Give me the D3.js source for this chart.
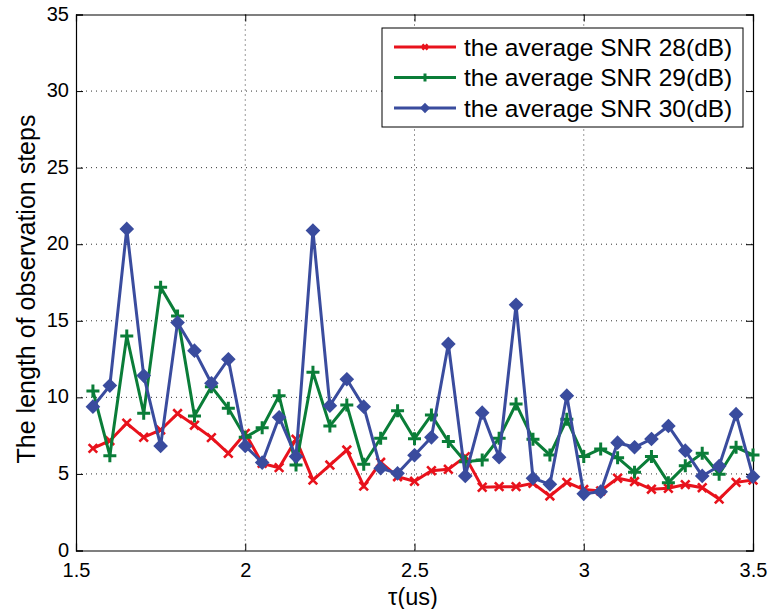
<!DOCTYPE html>
<html>
<head>
<meta charset="utf-8">
<script src="https://cdn.jsdelivr.net/npm/d3@7"></script>
<style>
  html, body { margin: 0; padding: 0; background: #fff; }
  svg { display: block; font-family: "Liberation Sans", Arial, sans-serif; }
</style>
</head>
<body>
<svg id="chart" width="770" height="609"></svg>
<script>
// tau values (us)
const tau = [1.55, 1.60, 1.65, 1.70, 1.75, 1.80, 1.85, 1.90, 1.95, 2.00,
             2.05, 2.10, 2.15, 2.20, 2.25, 2.30, 2.35, 2.40, 2.45, 2.50,
             2.55, 2.60, 2.65, 2.70, 2.75, 2.80, 2.85, 2.90, 2.95, 3.00,
             3.05, 3.10, 3.15, 3.20, 3.25, 3.30, 3.35, 3.40, 3.45, 3.50];

// observation steps for each average SNR
const snr28 = [6.67, 7.17, 8.31, 7.39, 7.87, 8.94, 8.18, 7.37, 6.35, 7.65,
               5.69, 5.41, 7.26, 4.60, 5.58, 6.56, 4.21, 5.76, 4.82, 4.52,
               5.21, 5.30, 6.13, 4.13, 4.17, 4.17, 4.39, 3.56, 4.45, 3.98,
               3.89, 4.72, 4.50, 4.00, 4.06, 4.30, 4.10, 3.36, 4.45, 4.60];
const snr29 = [10.42, 6.19, 14.01, 8.96, 17.19, 15.32, 8.79, 10.70, 9.29, 7.39,
               8.02, 10.11, 5.58, 11.64, 8.13, 9.50, 5.63, 7.33, 9.13, 7.30,
               8.85, 7.11, 5.80, 5.91, 7.33, 9.57, 7.26, 6.24, 8.57, 6.13,
               6.63, 6.06, 5.11, 6.13, 4.43, 5.54, 6.35, 4.98, 6.74, 6.24];
const snr30 = [9.39, 10.77, 21.00, 11.42, 6.83, 14.88, 13.05, 10.92, 12.49, 6.83,
               5.74, 8.70, 6.13, 20.89, 9.46, 11.18, 9.39, 5.37, 5.04, 6.22,
               7.39, 13.49, 4.87, 9.00, 6.09, 16.04, 4.72, 4.32, 10.11, 3.70,
               3.84, 7.04, 6.74, 7.28, 8.13, 6.52, 4.87, 5.52, 8.90, 4.82];

const xTicks = [1.5, 2, 2.5, 3, 3.5];
const yTicks = [0, 5, 10, 15, 20, 25, 30, 35];

const series = [
  { name: "the average SNR 28(dB)", values: snr28, color: "#e8121c", marker: "x" },
  { name: "the average SNR 29(dB)", values: snr29, color: "#0a7d38", marker: "plus" },
  { name: "the average SNR 30(dB)", values: snr30, color: "#3a4c9e", marker: "diamond" }
];

(function draw() {
  const svg = d3.select("#chart");
  const pLeft = 76, pRight = 753, pTop = 14.5, pBottom = 550.5;

  const x = d3.scaleLinear().domain([1.5, 3.5]).range([pLeft, pRight]);
  const y = d3.scaleLinear().domain([0, 35]).range([pBottom, pTop]);

  // dotted grid
  const grid = svg.append("g");
  grid.selectAll("line.gx").data(xTicks.slice(1, -1)).join("line")
    .attr("x1", d => x(d)).attr("x2", d => x(d))
    .attr("y1", pTop).attr("y2", pBottom)
    .attr("stroke", "#333").attr("stroke-width", 1).attr("stroke-dasharray", "1,4");
  grid.selectAll("line.gy").data(yTicks.slice(1, -1)).join("line")
    .attr("x1", pLeft).attr("x2", pRight)
    .attr("y1", d => y(d)).attr("y2", d => y(d))
    .attr("stroke", "#333").attr("stroke-width", 1).attr("stroke-dasharray", "1,4");

  // axes with inward ticks on all four sides
  const tickLen = 7;
  const xAxisB = d3.axisBottom(x).tickValues(xTicks).tickSize(-tickLen).tickPadding(12.5)
    .tickFormat(d3.format(""));
  const xAxisT = d3.axisTop(x).tickValues(xTicks).tickSize(-tickLen).tickFormat("");
  const yAxisL = d3.axisLeft(y).tickValues(yTicks).tickSize(-tickLen).tickPadding(7);
  const yAxisR = d3.axisRight(y).tickValues(yTicks).tickSize(-tickLen).tickFormat("");

  function styleAxis(g) {
    g.select(".domain").attr("stroke", "#000").attr("stroke-width", 1.2);
    g.selectAll(".tick line").attr("stroke", "#000").attr("stroke-width", 1);
    g.selectAll(".tick text").attr("fill", "#000").style("font-size", "20px")
      .style("font-family", "'Liberation Sans', Arial, sans-serif");
  }
  svg.append("g").attr("transform", `translate(0,${pBottom})`).call(xAxisB).call(styleAxis);
  svg.append("g").attr("transform", `translate(0,${pTop})`).call(xAxisT).call(styleAxis);
  svg.append("g").attr("transform", `translate(${pLeft},0)`).call(yAxisL).call(styleAxis)
    .selectAll(".tick text").attr("dy", "0.28em");
  svg.append("g").attr("transform", `translate(${pRight},0)`).call(yAxisR).call(styleAxis);

  // axis titles
  svg.append("text").attr("x", 413).attr("y", 605)
    .attr("text-anchor", "middle").style("font-size", "23.5px").text("τ(us)");
  svg.append("text").attr("transform", "translate(35,289) rotate(-90)")
    .attr("text-anchor", "middle").style("font-size", "25px")
    .text("The length of observation steps");

  // marker drawing
  function drawMarker(g, type, color, cx, cy, s) {
    if (type === "x") {
      const r = 4.3 * s;
      g.append("path").attr("d", `M${cx - r},${cy - r}L${cx + r},${cy + r}M${cx - r},${cy + r}L${cx + r},${cy - r}`)
        .attr("stroke", color).attr("stroke-width", 2.6).attr("fill", "none");
    } else if (type === "plus") {
      const r = 6.5 * s;
      g.append("path").attr("d", `M${cx - r},${cy}L${cx + r},${cy}M${cx},${cy - r}L${cx},${cy + r}`)
        .attr("stroke", color).attr("stroke-width", 3).attr("fill", "none");
    } else {
      const r = 5.5 * s;
      g.append("path").attr("d", `M${cx},${cy - r}L${cx + r},${cy}L${cx},${cy + r}L${cx - r},${cy}Z`)
        .attr("stroke", color).attr("stroke-width", 2.6).attr("fill", color).attr("stroke-linejoin", "miter");
    }
  }

  const plot = svg.append("g");
  const line = d3.line().x((d, i) => x(tau[i])).y(d => y(d));
  series.forEach(s => {
    const g = plot.append("g");
    g.append("path").datum(s.values).attr("d", line)
      .attr("fill", "none").attr("stroke", s.color).attr("stroke-width", 3)
      .attr("stroke-linejoin", "miter");
    s.values.forEach((v, i) => drawMarker(g, s.marker, s.color, x(tau[i]), y(v), 1));
  });

  // legend
  const leg = svg.append("g");
  leg.append("rect").attr("x", 382).attr("y", 28).attr("width", 361).attr("height", 99)
    .attr("fill", "#fff").attr("stroke", "#000").attr("stroke-width", 1);
  series.forEach((s, i) => {
    const ly = 47 + i * 30.5;
    leg.append("line").attr("x1", 394).attr("x2", 456).attr("y1", ly).attr("y2", ly)
      .attr("stroke", s.color).attr("stroke-width", 3);
    drawMarker(leg, s.marker, s.color, 425, ly, 0.6);
    leg.append("text").attr("x", 464).attr("y", ly).attr("dy", "0.36em")
      .style("font-size", "24.5px").attr("fill", "#000").text(s.name);
  });
})();
</script>
</body>
</html>
